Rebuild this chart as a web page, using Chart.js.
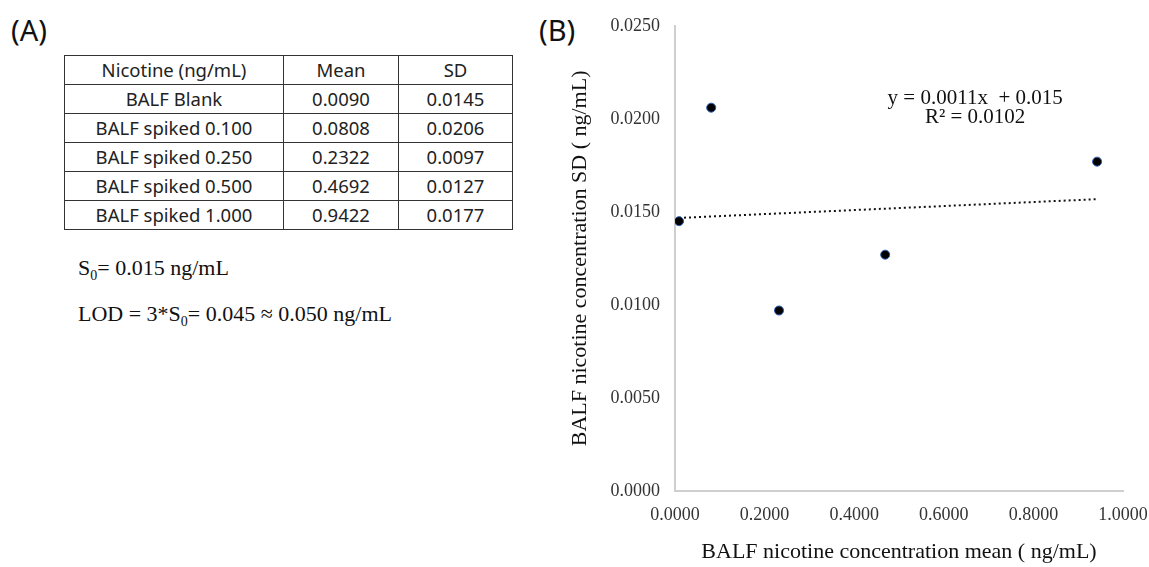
<!DOCTYPE html>
<html>
<head>
<meta charset="utf-8">
<script src="https://cdn.jsdelivr.net/npm/chart.js@4.4.1/dist/chart.umd.min.js"></script>
<style>
  body { margin: 0; background: #fff; width: 1149px; height: 567px; position: relative; overflow: hidden; }
  .panel { position: absolute; font-family: "Noto Sans", sans-serif; font-size: 29px; color: #111; line-height: 1; }
  table { position: absolute; left: 64px; top: 55px; border-collapse: collapse; font-family: "Noto Sans", sans-serif; font-size: 18.5px; color: #222; }
  td { border: 1.5px solid #333; height: 28px; padding: 0; text-align: center; line-height: 1; }
  .note { position: absolute; left: 78px; font-family: "Liberation Serif", "Times New Roman", serif; font-size: 22px; color: #111; }
  .note sub { font-size: 14px; }
  #wrap { position: absolute; left: 530px; top: 0; }
</style>
</head>
<body>
<div class="panel" style="left:11px; top:15px;">(A)</div>
<div class="panel" style="left:539px; top:15px;">(B)</div>

<table id="tbl"></table>
<div class="note" style="top:255px;">S<sub>0</sub>= 0.015 ng/mL</div>
<div class="note" style="top:301px;">LOD = 3*S<sub>0</sub>= 0.045 ≈ 0.050 ng/mL</div>

<div id="wrap"><canvas id="chart" width="619" height="567"></canvas></div>

<script>
// data
const samples = ["BALF Blank", "BALF spiked 0.100", "BALF spiked 0.250", "BALF spiked 0.500", "BALF spiked 1.000"];
const means = [0.0090, 0.0808, 0.2322, 0.4692, 0.9422];
const sds = [0.0145, 0.0206, 0.0097, 0.0127, 0.0177];
const xTicks = [0, 0.2, 0.4, 0.6, 0.8, 1.0];
const yTicks = [0, 0.005, 0.010, 0.015, 0.020, 0.025];

// table (A)
const tbl = document.getElementById("tbl");
const colW = [218, 114, 113];
function addRow(cells) {
  const tr = document.createElement("tr");
  cells.forEach(function (c, i) {
    const td = document.createElement("td");
    td.style.width = colW[i] + "px";
    td.textContent = c;
    tr.appendChild(td);
  });
  tbl.appendChild(tr);
}
addRow(["Nicotine (ng/mL)", "Mean", "SD"]);
samples.forEach(function (s, i) {
  addRow([s, means[i].toFixed(4), sds[i].toFixed(4)]);
});

// linear trend (least squares)
const n = means.length;
const mx = means.reduce((a, b) => a + b, 0) / n;
const my = sds.reduce((a, b) => a + b, 0) / n;
let sxy = 0, sxx = 0;
for (let i = 0; i < n; i++) {
  sxy += (means[i] - mx) * (sds[i] - my);
  sxx += (means[i] - mx) * (means[i] - mx);
}
const slope = sxy / sxx;
const icpt = my - slope * mx;
const xMin = Math.min(...means), xMax = Math.max(...means);
const trend = [
  { x: xMin, y: icpt + slope * xMin },
  { x: xMax, y: icpt + slope * xMax },
];

const serif = "'Liberation Serif', 'Times New Roman', serif";

// equation label drawn at a data position
const eqLabel = {
  id: "eqLabel",
  afterDatasetsDraw(chart) {
    const { ctx, scales } = chart;
    const px = scales.x.getPixelForValue(0.67);
    const py = scales.y.getPixelForValue(0.0211);
    ctx.save();
    ctx.fillStyle = "#111";
    ctx.font = "21px " + serif;
    ctx.textAlign = "center";
    ctx.textBaseline = "middle";
    ctx.fillText("y = 0.0011x  + 0.015", px, py);
    ctx.fillText("R² = 0.0102", px, py + 19);
    ctx.restore();
  },
};

new Chart(document.getElementById("chart").getContext("2d"), {
  type: "scatter",
  data: {
    datasets: [
      {
        label: "SD",
        data: means.map((m, i) => ({ x: m, y: sds[i] })),
        backgroundColor: "#000",
        borderColor: "#2a5cb0",
        borderWidth: 1,
        pointRadius: 4.5,
      },
      {
        label: "trend",
        type: "line",
        data: trend,
        borderColor: "#111",
        borderWidth: 2,
        borderDash: [2, 3],
        pointRadius: 0,
        fill: false,
      },
    ],
  },
  options: {
    responsive: false,
    animation: false,
    layout: { padding: { top: 24, right: 0, left: 0, bottom: 0 } },
    plugins: { legend: { display: false }, tooltip: { enabled: false } },
    scales: {
      x: {
        type: "linear",
        min: 0,
        max: 1,
        afterBuildTicks: (s) => { s.ticks = xTicks.map((v) => ({ value: v })); },
        afterFit: (s) => { s.height = 76; s.paddingRight = 26; s.paddingLeft = 0; },
        grid: { display: false, drawTicks: false },
        border: { color: "#cfcfcf", width: 2 },
        ticks: {
          padding: 13,
          color: "#333",
          font: { family: serif, size: 18 },
          callback: (v) => Number(v).toFixed(4),
        },
        title: {
          display: true,
          text: "BALF nicotine concentration mean ( ng/mL)",
          color: "#111",
          font: { family: serif, size: 22 },
          padding: { top: 0, bottom: 2 },
        },
      },
      y: {
        type: "linear",
        min: 0,
        max: 0.025,
        afterBuildTicks: (s) => { s.ticks = yTicks.map((v) => ({ value: v })); },
        afterFit: (s) => { s.width = 145; },
        grid: { display: false, drawTicks: false },
        border: { color: "#cfcfcf", width: 2 },
        ticks: {
          padding: 15,
          color: "#333",
          font: { family: serif, size: 18 },
          callback: (v) => Number(v).toFixed(4),
        },
        title: {
          display: true,
          text: "BALF nicotine concentration SD ( ng/mL)",
          color: "#111",
          font: { family: serif, size: 22 },
          padding: { top: 37, bottom: 0 },
        },
      },
    },
  },
  plugins: [eqLabel],
});
</script>
</body>
</html>
